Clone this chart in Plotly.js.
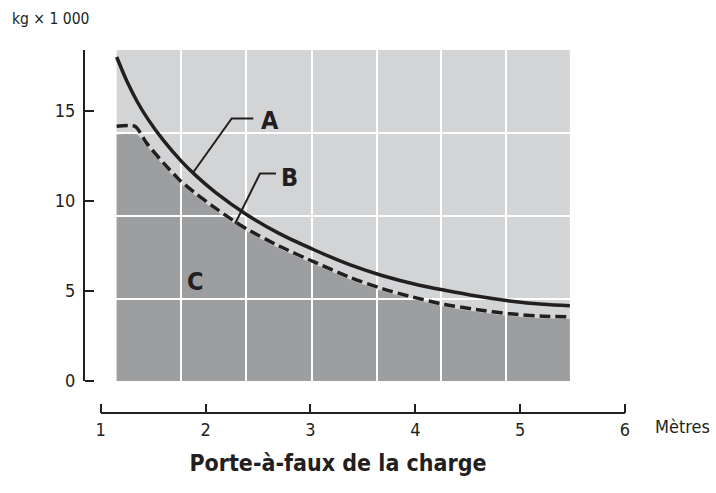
<!DOCTYPE html>
<html><head><meta charset="utf-8">
<script src="https://cdn.plot.ly/plotly-3.0.1.min.js"></script>
<style>html,body{margin:0;padding:0;background:#fff;}#chart{width:716px;height:493px;}</style>
</head><body><div id="chart"></div>
<script>
// ---- data ----
const xTickVals = [1, 2, 3, 4, 5, 6];
const yTickVals = [0, 5, 10, 15];

const curveA_x = [1.152, 1.25, 1.35, 1.45, 1.6, 1.77, 1.9, 2.1, 2.39, 2.7, 3.05, 3.38, 3.69, 4.04, 4.27, 4.58, 4.9, 5.22, 5.474];
const curveA_y = [18.0, 16.65, 15.5, 14.55, 13.35, 12.2, 11.45, 10.45, 9.25, 8.2, 7.25, 6.45, 5.85, 5.32, 5.05, 4.72, 4.45, 4.26, 4.18];

const curveB_x = [1.152, 1.327, 1.44, 1.6, 1.76, 1.92, 2.07, 2.26, 2.39, 2.7, 3.04, 3.38, 3.69, 3.95, 4.27, 4.58, 4.9, 5.22, 5.474];
const curveB_y = [14.15, 14.15, 13.2, 12.1, 11.12, 10.35, 9.7, 8.93, 8.45, 7.5, 6.6, 5.75, 5.12, 4.7, 4.26, 3.97, 3.73, 3.6, 3.57];

const zoneC_x = [1.152, 1.345, 1.44, 1.6, 1.76, 1.92, 2.07, 2.26, 2.39, 2.7, 3.04, 3.38, 3.69, 3.95, 4.27, 4.58, 4.9, 5.22, 5.474];
const zoneC_y = [13.7, 13.7, 13.05, 11.95, 10.98, 10.22, 9.57, 8.8, 8.33, 7.38, 6.48, 5.63, 5.0, 4.58, 4.14, 3.85, 3.61, 3.48, 3.45];

const panelX = [1.152, 5.474];
const panelY = [0, 18.39];

// ---- styling ----
const FONT = '"DejaVu Sans Condensed", "Liberation Sans Narrow", sans-serif';
const INK = '#231f20';
const LIGHT = '#d3d4d6';
const DARK = '#9d9ea0';

const xDomain = [0.0309, 1];
const yDomain = [0.0882, 1];

const traces = [
  { x: zoneC_x, y: zoneC_y, xaxis: 'x', yaxis: 'y', mode: 'lines', fill: 'tozeroy',
    fillcolor: DARK, line: { width: 0, shape: 'spline', smoothing: 0.6, color: DARK }, hoverinfo: 'skip', showlegend: false },
  { x: [], y: [], xaxis: 'x3', yaxis: 'y3', mode: 'lines', hoverinfo: 'skip', showlegend: false },
  { x: curveB_x, y: curveB_y, xaxis: 'x2', yaxis: 'y2', mode: 'lines',
    line: { color: INK, width: 3.5, dash: '11px,5px', shape: 'spline', smoothing: 0.6 }, hoverinfo: 'skip', showlegend: false },
  { x: curveA_x, y: curveA_y, xaxis: 'x2', yaxis: 'y2', mode: 'lines',
    line: { color: INK, width: 3.5, shape: 'spline', smoothing: 0.8 }, hoverinfo: 'skip', showlegend: false }
];

const tickStyle = { ticks: 'outside', ticklen: 9, tickwidth: 2, tickcolor: INK };

const layout = {
  width: 716, height: 493,
  margin: { l: 84, r: 91, t: 50, b: 80, pad: 0 },
  paper_bgcolor: '#ffffff',
  plot_bgcolor: 'rgba(0,0,0,0)',
  showlegend: false,
  font: { family: FONT, color: INK, size: 18 },
  title: { text: '<b>Porte-à-faux de la charge</b>', font: { family: FONT, size: 23, color: INK },
           x: 338 / 716, xanchor: 'center', xref: 'container', y: (493 - 463) / 493, yanchor: 'middle', yref: 'container' },
  // visible axes: line + labels
  xaxis: { domain: xDomain, range: [1, 6], anchor: 'free', position: 0,
           tickvals: xTickVals, ticktext: xTickVals.map(String), ticks: '', ticklabelstandoff: 0,
           showline: true, linecolor: INK, linewidth: 2, showgrid: false, zeroline: false,
           tickfont: { family: FONT, size: 18, color: INK }, fixedrange: true },
  yaxis: { domain: yDomain, range: panelY, anchor: 'free', position: 0,
           tickvals: yTickVals, ticktext: yTickVals.map(String), ticks: '', ticklabelstandoff: 4,
           showline: true, linecolor: INK, linewidth: 2, showgrid: false, zeroline: false,
           tickfont: { family: FONT, size: 18, color: INK }, fixedrange: true },
  // inward tick marks (drawn by mirrored axes)
  xaxis3: Object.assign({ overlaying: 'x', side: 'top', anchor: 'free', position: 0, range: [1, 6],
           tickvals: xTickVals, showticklabels: false, showline: false, showgrid: false, zeroline: false, fixedrange: true }, tickStyle),
  yaxis3: Object.assign({ overlaying: 'y', side: 'right', anchor: 'free', position: 0, range: panelY,
           tickvals: yTickVals, showticklabels: false, showline: false, showgrid: false, zeroline: false, fixedrange: true }, tickStyle),
  // white grid pattern drawn above the grey zones
  xaxis2: { domain: xDomain, range: [1, 6], anchor: 'y2', showticklabels: false, ticks: '',
            tickvals: [1.766, 2.386, 3.011, 3.631, 4.244, 4.861], showgrid: true, gridcolor: '#ffffff', gridwidth: 2,
            showline: false, zeroline: false, fixedrange: true },
  yaxis2: { domain: yDomain, range: panelY, anchor: 'x2', showticklabels: false, ticks: '',
            tickvals: [4.54, 9.14, 13.76], showgrid: true, gridcolor: '#ffffff', gridwidth: 2,
            showline: false, zeroline: false, fixedrange: true },
  shapes: [
    { type: 'rect', xref: 'x', yref: 'y', x0: panelX[0], x1: panelX[1], y0: panelY[0], y1: panelY[1],
      fillcolor: LIGHT, line: { width: 0 }, layer: 'below' },
    { type: 'path', xref: 'x2', yref: 'y2', path: 'M 2.455 14.59 L 2.249 14.59 L 1.883 11.6',
      line: { color: INK, width: 2 }, layer: 'above' },
    { type: 'path', xref: 'x2', yref: 'y2', path: 'M 2.671 11.53 L 2.519 11.53 L 2.281 8.74',
      line: { color: INK, width: 2 }, layer: 'above' }
  ],
  annotations: [
    { text: '<b>A</b>', xref: 'x2', yref: 'y2', x: 2.615, y: 14.47, showarrow: false,
      font: { family: FONT, size: 25, color: INK }, xanchor: 'center', yanchor: 'middle' },
    { text: '<b>B</b>', xref: 'x2', yref: 'y2', x: 2.805, y: 11.33, showarrow: false,
      font: { family: FONT, size: 25, color: INK }, xanchor: 'center', yanchor: 'middle' },
    { text: '<b>C</b>', xref: 'x2', yref: 'y2', x: 1.907, y: 5.5, showarrow: false,
      font: { family: FONT, size: 25, color: INK }, xanchor: 'center', yanchor: 'middle' },
    { text: 'kg × 1 000', xref: 'paper', yref: 'paper', x: (10 - 84) / 541, y: (413 - 19) / 363, showarrow: false,
      font: { family: FONT, size: 15.5, color: INK }, xanchor: 'left', yanchor: 'middle' },
    { text: 'Mètres', xref: 'paper', yref: 'paper', x: (653 - 84) / 541, y: (413 - 426) / 363, showarrow: false,
      font: { family: FONT, size: 18, color: INK }, xanchor: 'left', yanchor: 'middle' }
  ]
};

Plotly.newPlot('chart', traces, layout, { displayModeBar: false, staticPlot: true });
</script></body></html>
